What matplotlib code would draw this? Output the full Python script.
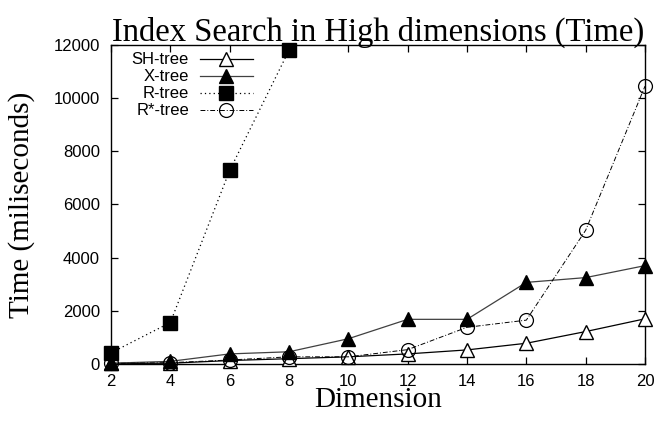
import matplotlib
matplotlib.use("Agg")
import matplotlib.pyplot as plt

dims = [2, 4, 6, 8, 10, 12, 14, 16, 18, 20]

sh_tree = [20, 30, 130, 200, 270, 380, 530, 780, 1220, 1700]
x_tree = [30, 100, 380, 460, 950, 1680, 1680, 3070, 3250, 3700]
r_dims = [2, 4, 6, 8]
r_tree = [420, 1560, 7280, 11800]
rstar_tree = [20, 50, 150, 270, 270, 540, 1380, 1650, 5030, 10450]

y_ticks = [0, 2000, 4000, 6000, 8000, 10000, 12000]

serif = "Liberation Serif"
sans = "Liberation Sans"

fig = plt.figure(figsize=(6.55, 4.24), dpi=100)
ax = fig.add_axes([0.1695, 0.1415, 0.8152, 0.7524])

ms = 10
ax.plot(dims, sh_tree, color="black", lw=0.9, marker="^", ms=ms,
        mfc="white", mec="black", mew=1.0, label="SH-tree", clip_on=False, zorder=3)
ax.plot(dims, x_tree, color="0.25", lw=0.9, marker="^", ms=ms,
        mfc="black", mec="black", label="X-tree", clip_on=False, zorder=3)
ax.plot(r_dims, r_tree, color="black", lw=0.9, ls=(0, (1, 2.5)), marker="s", ms=ms,
        mfc="black", mec="black", label="R-tree", clip_on=False, zorder=3)
ax.plot(dims, rstar_tree, color="black", lw=0.7, ls=(0, (5, 2, 1, 2)), marker="o", ms=ms,
        mfc="none", mec="black", mew=0.9, label="R*-tree", clip_on=False, zorder=3)

ax.set_xlim(2, 20)
ax.set_ylim(0, 12000)
ax.set_xticks(dims)
ax.set_yticks(y_ticks)
ax.tick_params(direction="in", length=5, width=0.9, top=True, right=True,
               labelsize=12)
ax.tick_params(axis="y", pad=8)
ax.tick_params(axis="x", pad=7)
for lab in ax.get_xticklabels() + ax.get_yticklabels():
    lab.set_fontfamily(sans)
for s in ax.spines.values():
    s.set_linewidth(1.0)

ax.set_title("Index Search in High dimensions (Time)", fontsize=23.5,
             family=serif, pad=3)
ax.set_xlabel("Dimension", fontsize=21, family=serif, labelpad=-1)
ax.set_ylabel("Time (miliseconds)", fontsize=21, family=serif, labelpad=13)

leg = ax.legend(loc="upper right", bbox_to_anchor=(0.266, 0.977), frameon=False,
                markerfirst=False, prop={"family": sans, "size": 12},
                labelspacing=0.12, handlelength=3.2, handletextpad=0.65,
                handleheight=0.6, borderpad=0, borderaxespad=0)

fig.savefig("out.png", dpi=100)
